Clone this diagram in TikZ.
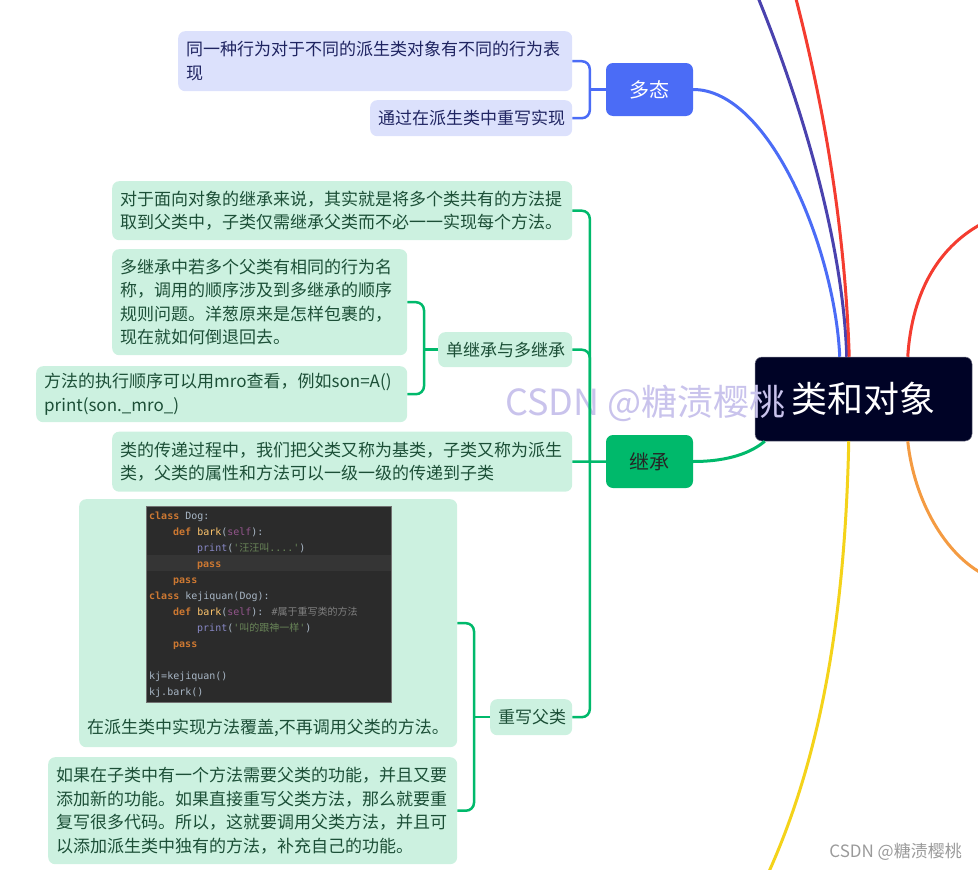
\documentclass[tikz,border=0pt]{standalone}
\usepackage{fontspec}
\newfontfamily\cjkfont{Noto Sans CJK SC}
\newfontfamily\codefont{DejaVu Sans Mono}
\definecolor{rootfill}{HTML}{000326}
\definecolor{polyblue}{HTML}{4B6CF6}
\definecolor{polylav}{HTML}{DCE1FC}
\definecolor{polytext}{HTML}{1F2461}
\definecolor{inhgreen}{HTML}{00B96B}
\definecolor{inhmint}{HTML}{CCF1E0}
\definecolor{inhtext}{HTML}{1C4F37}
\definecolor{branchindigo}{HTML}{4A42AE}
\definecolor{branchred}{HTML}{F43C30}
\definecolor{branchorange}{HTML}{F49B42}
\definecolor{branchyellow}{HTML}{F4D31A}
\definecolor{codebg}{HTML}{2B2B2B}
\definecolor{codehl}{HTML}{353535}
\definecolor{codetxt}{HTML}{A9B7C6}
\definecolor{codekw}{HTML}{CC7832}
\definecolor{codefn}{HTML}{FFC66D}
\definecolor{codeself}{HTML}{94558D}
\definecolor{codebuiltin}{HTML}{8888C6}
\definecolor{codestr}{HTML}{6A8759}
\definecolor{codecmt}{HTML}{808080}
\definecolor{markpurple}{HTML}{C9C3EC}
\definecolor{markgray}{HTML}{9A9A9A}
\newcommand\kwd[1]{\textcolor{codekw}{\bfseries #1}}
\newcommand\fnc[1]{\textcolor{codefn}{#1}}
\newcommand\slf[1]{\textcolor{codeself}{#1}}
\newcommand\bif[1]{\textcolor{codebuiltin}{#1}}
\newcommand\strg[1]{\textcolor{codestr}{#1}}
\newcommand\cmt[1]{\textcolor{codecmt}{#1}}
\tikzset{
  rootbox/.style={fill=rootfill, draw=rootfill!55!white, line width=0.5pt, text=white,
    rounded corners=7pt, minimum width=217pt, minimum height=84pt, inner sep=0pt,
    font=\cjkfont\fontsize{36}{40}\selectfont},
  topicbox/.style={rounded corners=7pt, minimum width=87pt, minimum height=53pt,
    inner sep=0pt, font=\cjkfont\fontsize{20}{24}\selectfont},
  lavbox/.style={fill=polylav, text=polytext, rounded corners=7pt, anchor=north west,
    align=left, inner xsep=8pt, inner ysep=0pt, font=\cjkfont\fontsize{17}{23.5}\selectfont},
  mintbox/.style={lavbox, fill=inhmint, text=inhtext},
  branch/.style={line width=3pt},
  fork/.style={line width=2.5pt, rounded corners=8pt},
}
\begin{document}
\begin{tikzpicture}[x=1pt, y=-1pt, font=\cjkfont]
  \useasboundingbox (0,0) rectangle (978,870);
  \node[rootbox] (root) at (863.5,399) {类和对象};
  \node[topicbox, fill=polyblue, text=white] (poly) at (649.5,89.5) {多态};
  \node[topicbox, fill=inhgreen, text=black!85] (inh) at (649.5,461.5) {继承};
  \node[lavbox, text width=378pt, minimum height=60pt] (poly1) at (178,31)
    {同一种行为对于不同的派生类对象有不同的行为表\\现};
  \node[lavbox, text width=186pt, minimum height=36pt] (poly2) at (370,100)
    {通过在派生类中重写实现};
  \node[mintbox, text width=444pt, minimum height=59pt] (inhA) at (112,181)
    {对于面向对象的继承来说，其实就是将多个类共有的方法提\\取到父类中，子类仅需继承父类而不必一一实现每个方法。};
  \node[mintbox, text width=118pt, minimum height=35pt] (inhB) at (438,332)
    {单继承与多继承};
  \node[mintbox, text width=444pt, minimum height=60pt] (inhC) at (112,431.5)
    {类的传递过程中，我们把父类又称为基类，子类又称为派生\\类，父类的属性和方法可以一级一级的传递到子类};
  \node[mintbox, text width=66pt, minimum height=36pt] (inhD) at (490,699)
    {重写父类};
  \node[mintbox, text width=279pt, minimum height=106pt] (multiA) at (112,249)
    {多继承中若多个父类有相同的行为名\\称，调用的顺序涉及到多继承的顺序\\规则问题。洋葱原来是怎样包裹的，\\现在就如何倒退回去。};
  \node[mintbox, text width=355pt, minimum height=56pt] (multiB) at (36,366)
    {方法的执行顺序可以用mro查看，例如son=A()\\print(son.\_mro\_)};
  \node[mintbox, text width=362pt, minimum height=248pt] (overA) at (79,499) {};
  \node[mintbox, text width=393pt, minimum height=107pt] (overB) at (48,757)
    {如果在子类中有一个方法需要父类的功能，并且又要\\添加新的功能。如果直接重写父类方法，那么就要重\\复写很多代码。所以，这就要调用父类方法，并且可\\以添加派生类中独有的方法，补充自己的功能。};
  \node[anchor=north west, fill=codebg, draw=black!55, line width=0.6pt,
    minimum width=245pt, minimum height=196pt, inner sep=0pt] (codebg) at (146,506) {};
  \node[anchor=north west, fill=codehl, minimum width=244pt, minimum height=16pt,
    inner sep=0pt] (codeline) at (146.5,555) {};
  \node[anchor=north west, align=left, inner sep=0pt, text=codetxt,
    font=\codefont\fontsize{10}{16}\selectfont] (code) at (149,512) {%
    \kwd{class} Dog:\\
    \hspace*{24pt}\kwd{def} \fnc{bark}(\slf{self}):\\
    \hspace*{48pt}\bif{print}(\strg{\textquotesingle{\cjkfont 汪汪叫}....\textquotesingle})\\
    \hspace*{48pt}\kwd{pass}\\
    \hspace*{24pt}\kwd{pass}\\
    \kwd{class} kejiquan(Dog):\\
    \hspace*{24pt}\kwd{def} \fnc{bark}(\slf{self}): \cmt{\#{\cjkfont 属于重写类的方法}}\\
    \hspace*{48pt}\bif{print}(\strg{\textquotesingle{\cjkfont 叫的跟神一样}\textquotesingle})\\
    \hspace*{24pt}\kwd{pass}\\
    \mbox{}\\
    kj=kejiquan()\\
    kj.bark()};
  \node[anchor=west, inner sep=0pt, text=inhtext, font=\cjkfont\fontsize{17}{20}\selectfont]
    (overcap) at (87,728) {在派生类中实现方法覆盖,不再调用父类的方法。};
  \node[anchor=base west, inner sep=0pt, text=markpurple, font=\cjkfont\fontsize{36}{40}\selectfont]
    (mark) at (505,415) {CSDN @糖渍樱桃};
  \node[anchor=base east, inner sep=0pt, text=markgray, font=\cjkfont\fontsize{17}{19}\selectfont]
    (credit) at (962,857) {CSDN @糖渍樱桃};
  \coordinate (offA) at (757,-5);
  \coordinate (offB) at (795,-5);
  \coordinate (offC) at (985,222);
  \coordinate (offD) at (985,575);
  \coordinate (offE) at (767,876);
  \draw[branch, polyblue] (poly.east) .. controls (770,89.5) and (835,250) .. ([xshift=85pt]root.north west);
  \draw[branch, branchindigo] ([xshift=92pt]root.north west) .. controls (843,240) and (800,100) .. (offA);
  \draw[branch, branchred] ([xshift=94.5pt]root.north west) .. controls (845,230) and (825,110) .. (offB);
  \draw[branch, branchred] ([xshift=153pt]root.north west) .. controls (912,290) and (940,245) .. (offC);
  \draw[branch, branchorange] ([xshift=153pt]root.south west) .. controls (914,500) and (945,555) .. (offD);
  \draw[branch, branchyellow] ([xshift=94pt]root.south west) .. controls (845,620) and (820,760) .. (offE);
  \draw[branch, inhgreen] (inh.east) .. controls (730,461.5) and (752,452) .. ([xshift=10pt]root.south west);
  \draw[fork, polyblue] (poly1.east) -| ([xshift=-16pt]poly.west) |- (poly2.east);
  \draw[fork, polyblue] (poly.west) -- ([xshift=-16pt]poly.west);
  \draw[fork, inhgreen] (inhA.east) -| ([xshift=-16pt]inh.west) |- (inhD.east);
  \draw[fork, inhgreen] (inhB.east) -| ([xshift=-16pt]inh.west);
  \draw[fork, inhgreen] (inhC.east) -- (inh.west);
  \draw[fork, inhgreen] (multiA.east) -| ([xshift=-14pt]inhB.west) |- (multiB.east);
  \draw[fork, inhgreen] (inhB.west) -- ([xshift=-14pt]inhB.west);
  \draw[fork, inhgreen] (overA.east) -| ([xshift=-16pt]inhD.west) |- (overB.east);
  \draw[fork, inhgreen] (inhD.west) -- ([xshift=-16pt]inhD.west);
\end{tikzpicture}
\end{document}
